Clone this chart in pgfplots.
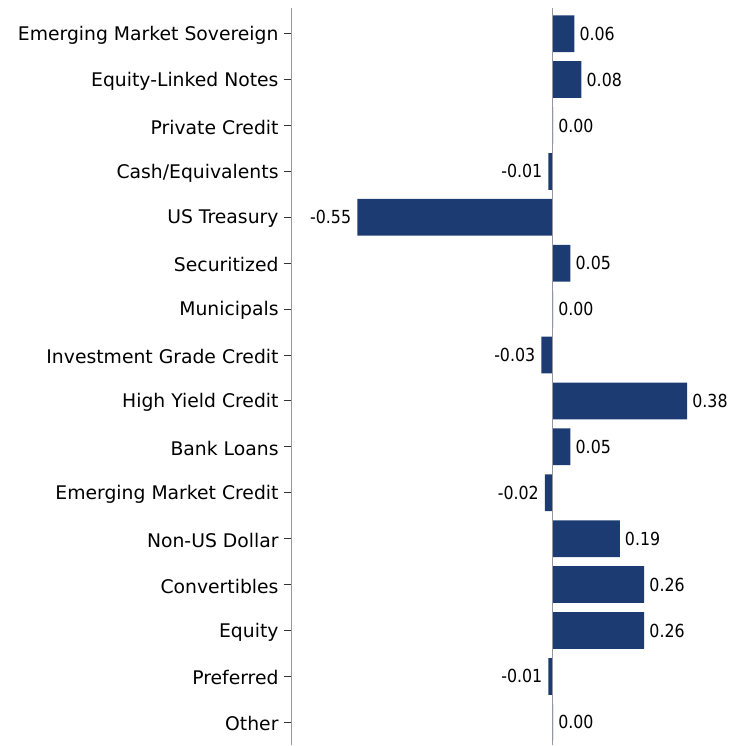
\documentclass[border=0pt]{standalone}
\usepackage{fontspec}
\setmainfont{DejaVu Sans}
\newfontfamily\valfont{DejaVu Sans}[FakeStretch=0.88]
\usepackage{pgfplots}
\pgfplotsset{compat=1.18}
\usepackage{pgfplotstable}
\definecolor{barblue}{RGB}{29,59,115}
\definecolor{axgray}{RGB}{150,150,160}
\pgfplotstableread{
y x lab
15 0.062 0.06
14 0.082 0.08
13 0.002 0.00
10 0.051 0.05
9 0.002 0.00
7 0.38 0.38
6 0.051 0.05
4 0.19 0.19
3 0.259 0.26
2 0.259 0.26
0 0.002 0.00
}\postable
\pgfplotstableread{
y x lab
12 -0.011 -0.01
11 -0.55 -0.55
8 -0.031 -0.03
5 -0.021 -0.02
1 -0.011 -0.01
}\negtable
\begin{document}
\begin{tikzpicture}[x=1pt,y=1pt]
\begin{axis}[
  scale only axis,
  width=442pt, height=738pt,
  xmin=-0.735, xmax=0.51,
  ymin=-0.5, ymax=15.56,
  axis x line=none,
  axis y line*=left,
  axis line style={axgray, line width=1.2pt},
  ytick={0,...,15},
  yticklabels={Other,Preferred,Equity,Convertibles,Non-US Dollar,Emerging Market Credit,Bank Loans,High Yield Credit,Investment Grade Credit,Municipals,Securitized,US Treasury,Cash/Equivalents,Private Credit,Equity-Linked Notes,Emerging Market Sovereign},
  tick align=outside,
  major tick length=8pt,
  tick style={black!80, line width=1pt},
  yticklabel style={font=\fontsize{18.8}{20}\selectfont, inner sep=5pt, yshift=-1.5pt},
  xbar, bar width=36.8pt, bar shift=0pt,
  clip=false,
  point meta=explicit symbolic,
  nodes near coords,
  nodes near coords align=center,
]
\addplot[fill=barblue, draw=none, bar shift=0pt,
  every node near coord/.style={font=\valfont\fontsize{18}{20}\selectfont, inner sep=0pt, anchor=west, xshift=5pt}]
  table[x=x, y=y, meta=lab] {\postable};
\addplot[fill=barblue, draw=none, bar shift=0pt,
  every node near coord/.style={font=\valfont\fontsize{18}{20}\selectfont, inner sep=0pt, anchor=east, xshift=-6pt}]
  table[x=x, y=y, meta=lab] {\negtable};
\draw[axgray, line width=1.5pt] (axis cs:0,-0.5) -- (axis cs:0,15.56);
\end{axis}
\path ([xshift=-292pt]current axis.south west) rectangle ([yshift=8pt]current axis.north east);
\end{tikzpicture}
\end{document}
